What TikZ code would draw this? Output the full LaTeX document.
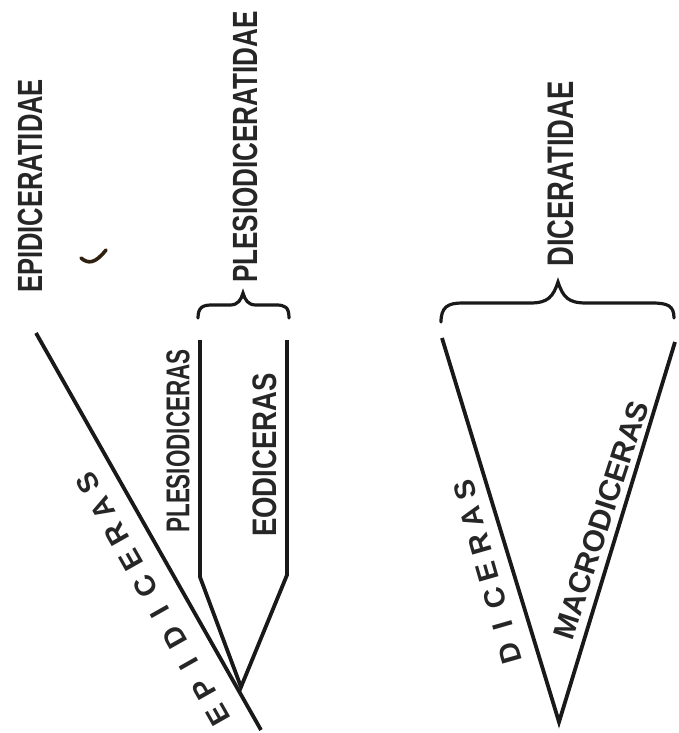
\documentclass[tikz,border=0pt]{standalone}
\usepackage{fontspec}
\setmainfont{Liberation Sans}
\usetikzlibrary{calc}
\newcommand\condtxt[2]{\scalebox{#1}[1]{#2}}
\begin{document}
\begin{tikzpicture}[x=1pt,y=-1pt,
  branch/.style={line width=3.8pt,line join=miter,line cap=butt,black!90},
  bracestyle/.style={line width=3.2pt,line cap=round,black!90},
  famlab/.style={inner sep=0pt,rotate=90,text=black!85},
  genlab/.style={inner sep=0pt,text=black!85}]
\useasboundingbox (0,0) rectangle (679,733);
% coordinates
\coordinate (epiTop) at (36,333);
\coordinate (epiBot) at (261,730);
\coordinate (apex) at (241,687);
\coordinate (plTop) at (200,340);
\coordinate (plBend) at (200,577);
\coordinate (eoTop) at (287,340);
\coordinate (eoBend) at (287,575);
\coordinate (dLeft) at (442,338);
\coordinate (dApex) at (559,722);
\coordinate (dRight) at (675,342);
% branches
\draw[branch] (epiTop) -- (epiBot);
\draw[branch] (plTop) -- (plBend) -- (apex) -- (eoBend) -- (eoTop);
\draw[branch] (dLeft) -- (dApex) -- (dRight);
% braces
\draw[bracestyle] (198,318) .. controls (198,307) and (203,305) .. (212,305) -- (230,305)
  .. controls (238,305) and (241,300) .. (243,293)
  .. controls (245,300) and (248,305) .. (256,305) -- (276,305)
  .. controls (285,305) and (289,307) .. (289,318);
\draw[bracestyle] (441,322) .. controls (441,307) and (448,303) .. (462,303) -- (530,303)
  .. controls (548,303) and (553,297) .. (558,282)
  .. controls (563,297) and (568,303) .. (586,303) -- (652,303)
  .. controls (668,303) and (674,306) .. (674,318);
% stray mark
\draw[line width=3.6pt,line cap=round,draw=black!75!brown] (81,258) .. controls (88,264) and (95,264) .. (106,250);
% family labels
\node[famlab,font=\bfseries\fontsize{35}{35}\selectfont] (epifam) at (30,186) {\condtxt{0.73}{EPIDICERATIDAE}};
\node[famlab,font=\bfseries\fontsize{35}{35}\selectfont] (plfam) at (245,147) {\condtxt{0.745}{PLESIODICERATIDAE}};
\node[famlab,font=\bfseries\fontsize{37}{37}\selectfont] (dfam) at (561,174) {\condtxt{0.74}{DICERATIDAE}};
% genus labels
\node[famlab,font=\bfseries\fontsize{33}{33}\selectfont] (plgen) at (178,441) {\condtxt{0.68}{PLESIODICERAS}};
\node[famlab,font=\bfseries\fontsize{34}{34}\selectfont] (eogen) at (265,455) {\condtxt{0.81}{EODICERAS}};
\node[genlab,rotate=72,font=\bfseries\fontsize{30}{30}\selectfont] (macgen) at (601,520) {MACRODICERAS};
% spaced letters
\coordinate (epiE) at (218,715);
\coordinate (epiS) at (88,483);
\foreach \l [count=\i] in {E,P,I,D,I,C,E,R,A,S}
  \node[genlab,rotate=119.5,font=\bfseries\fontsize{29}{29}\selectfont] (epi\i) at ($(epiE)!{(\i-1)/9}!(epiS)$) {\l};
\coordinate (dicD) at (510,653);
\coordinate (dicS) at (465,490);
\foreach \l [count=\i] in {D,I,C,E,R,A,S}
  \node[genlab,rotate=106,font=\bfseries\fontsize{29}{29}\selectfont] (dic\i) at ($(dicD)!{(\i-1)/6}!(dicS)$) {\l};
\end{tikzpicture}
\end{document}
